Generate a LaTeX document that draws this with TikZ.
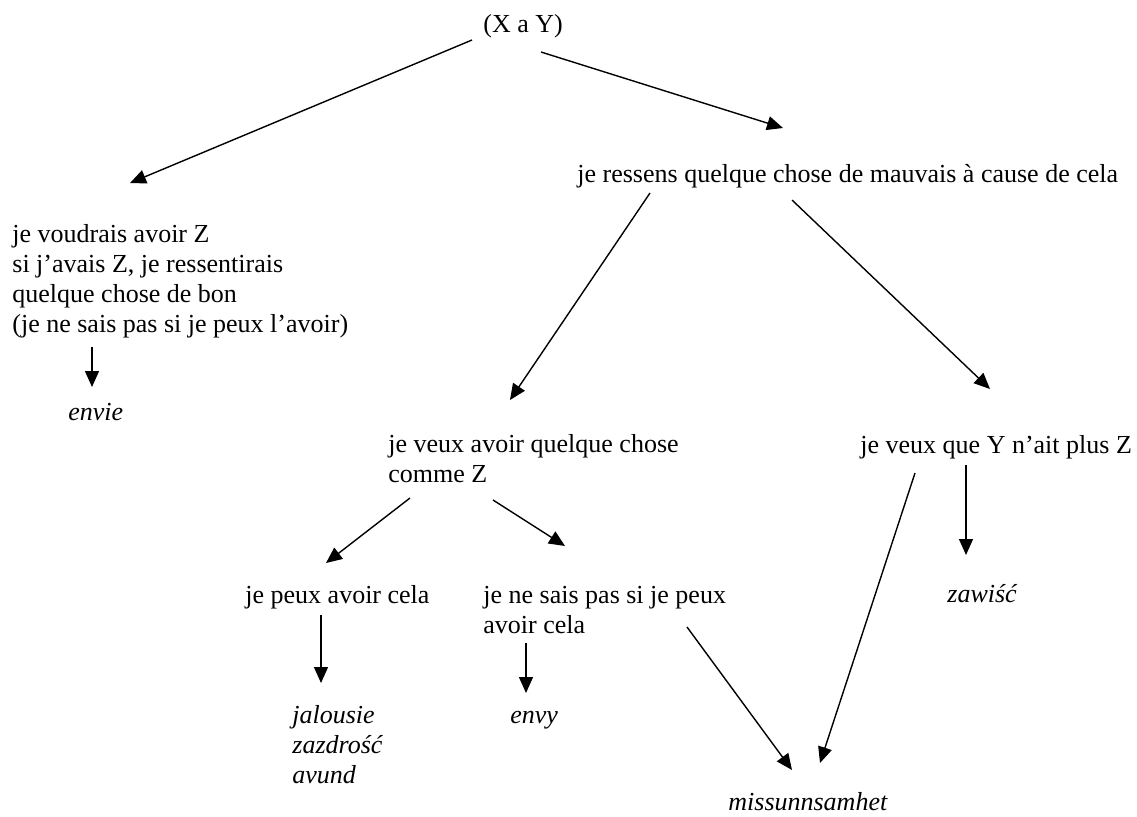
\documentclass[tikz,border=0pt]{standalone}
\usepackage{fontspec}
\setmainfont{Liberation Serif}
\usetikzlibrary{arrows.meta}
\begin{document}
\begin{tikzpicture}[
        x=0.5pt,y=-0.5pt,
        every node/.style={inner sep=0pt,font=\fontsize{13}{15}\selectfont},
        txt/.style={anchor=base west,align=left},
        word/.style={anchor=base west,align=left,font=\fontsize{13}{15}\selectfont\itshape},
        link/.style={draw,line width=0.7pt,-{Triangle[length=8pt,width=7pt]}},
        ]
    \useasboundingbox (0,0) rectangle (1137,816);
    % texts (base = last line)
    \node [txt] (xy) at (483,32) {(X a Y)};
    \node [txt] (bad) at (577,182) {je ressens quelque chose de mauvais à cause de cela};
    \node [txt] (want) at (12,332) {je voudrais avoir Z\\si j’avais Z, je ressentirais\\quelque chose de bon\\(je ne sais pas si je peux l’avoir)};
    \node [word] (envie) at (68,420) {envie};
    \node [txt] (like) at (388,482) {je veux avoir quelque chose\\comme Z};
    \node [txt] (nohave) at (860,453) {je veux que Y n’ait plus Z};
    \node [txt] (can) at (245,603) {je peux avoir cela};
    \node [txt] (cannot) at (483,633) {je ne sais pas si je peux\\avoir cela};
    \node [word] (jal) at (292,783) {jalousie\\zazdrość\\avund};
    \node [word] (envy) at (510,723) {envy};
    \node [word] (zaw) at (947,602) {zawiść};
    \node [word] (miss) at (728,810) {missunnsamhet};
    % arrow ends
    \coordinate (xy-l) at (472,40);   \coordinate (want-t) at (130,183);
    \coordinate (xy-r) at (541,52);   \coordinate (bad-t) at (783,128);
    \coordinate (bad-l) at (650,193); \coordinate (like-t) at (510,400);
    \coordinate (bad-r) at (792,200); \coordinate (nohave-t) at (990,389);
    \coordinate (want-b) at (92,347); \coordinate (envie-t) at (92,387);
    \coordinate (like-l) at (410,498); \coordinate (can-t) at (326,563);
    \coordinate (like-r) at (493,500); \coordinate (cannot-t) at (565,546);
    \coordinate (nohave-b) at (966,465); \coordinate (zaw-t) at (966,555);
    \coordinate (nohave-l) at (915,473); \coordinate (miss-r) at (820,763);
    \coordinate (can-b) at (321,615); \coordinate (jal-t) at (321,683);
    \coordinate (cannot-b) at (526,643); \coordinate (envy-t) at (526,693);
    \coordinate (cannot-r) at (687,627); \coordinate (miss-l) at (792,770);
    % arrows
    \path [link] (xy-l) -- (want-t);
    \path [link] (xy-r) -- (bad-t);
    \path [link] (bad-l) -- (like-t);
    \path [link] (bad-r) -- (nohave-t);
    \path [link] (want-b) -- (envie-t);
    \path [link] (like-l) -- (can-t);
    \path [link] (like-r) -- (cannot-t);
    \path [link] (nohave-b) -- (zaw-t);
    \path [link] (nohave-l) -- (miss-r);
    \path [link] (can-b) -- (jal-t);
    \path [link] (cannot-b) -- (envy-t);
    \path [link] (cannot-r) -- (miss-l);
\end{tikzpicture}
\end{document}
